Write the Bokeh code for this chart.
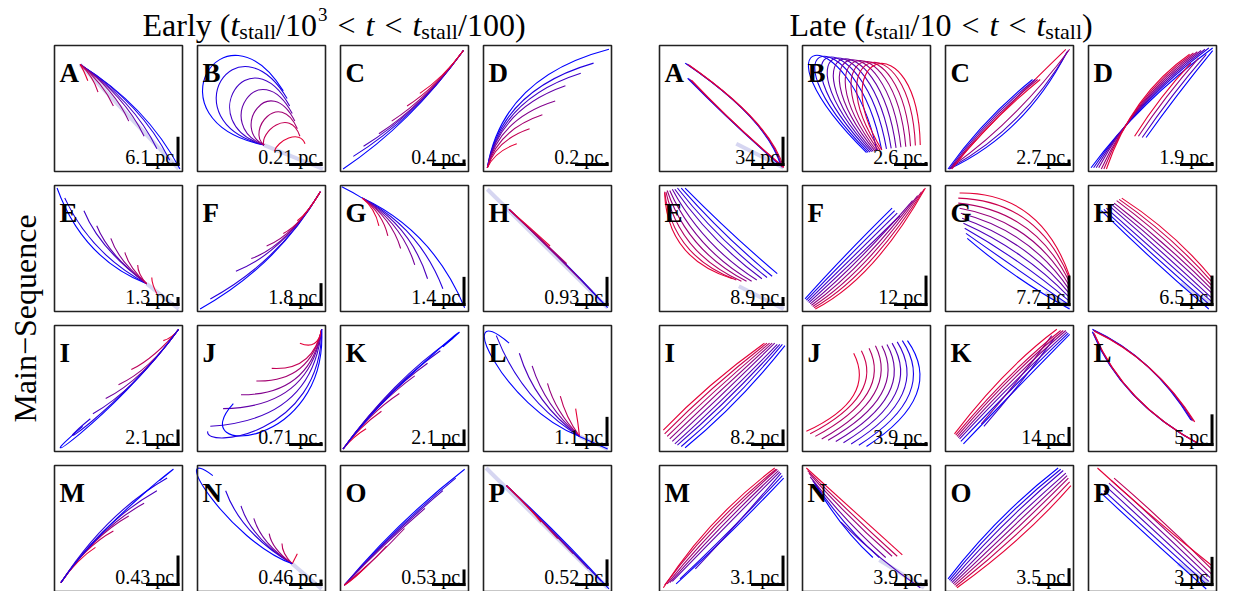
import math
from bokeh.plotting import figure
from bokeh.models import Range1d, ColumnDataSource
from bokeh.core.properties import value
from bokeh.embed import file_html
from bokeh.resources import INLINE

# ---------------- data ----------------
LETTERS = list("ABCDEFGHIJKLMNOP")
EARLY_SCALE = ["6.1 pc", "0.21 pc", "0.4 pc", "0.2 pc", "1.3 pc", "1.8 pc", "1.4 pc", "0.93 pc",
               "2.1 pc", "0.71 pc", "2.1 pc", "1.1 pc", "0.43 pc", "0.46 pc", "0.53 pc", "0.52 pc"]
LATE_SCALE = ["34 pc", "2.6 pc", "2.7 pc", "1.9 pc", "8.9 pc", "12 pc", "7.7 pc", "6.5 pc",
              "8.2 pc", "3.9 pc", "14 pc", "5 pc", "3.1 pc", "3.9 pc", "3.5 pc", "3 pc"]
EARLY_VBAR = [0.22, 0.02, 0.04, 0.02, 0.06, 0.17, 0.22, 0.22, 0.12, 0.02, 0.12, 0.22, 0.23, 0.04, 0.12, 0.20]
LATE_VBAR = [0.22, 0.02, 0.04, 0.02, 0.06, 0.23, 0.23, 0.23, 0.12, 0.02, 0.14, 0.24, 0.23, 0.04, 0.13, 0.22]

# curves in unit panel coords: 6-tuple = quadratic (x0,y0,cx,cy,x1,y1); 8-tuple = cubic (x0,y0,cx0,cy0,cx1,cy1,x1,y1)
# each panel = list of groups, each group coloured blue -> red in order
EARLY_A = [[(0.20, 0.85, 0.72, 0.52, 0.98, 0.02), (0.20, 0.85, 0.68, 0.54, 0.90, 0.09),
            (0.20, 0.85, 0.62, 0.56, 0.80, 0.18), (0.20, 0.85, 0.55, 0.60, 0.70, 0.28),
            (0.20, 0.85, 0.47, 0.65, 0.58, 0.40), (0.20, 0.85, 0.38, 0.70, 0.46, 0.52),
            (0.20, 0.85, 0.30, 0.76, 0.34, 0.63), (0.20, 0.85, 0.23, 0.80, 0.26, 0.72)]]
EARLY_B = [[(0.52, 0.21, -0.40, 0.40, 0.20, 1.40, 0.67, 0.64), (0.52, 0.21, -0.22, 0.40, 0.30, 1.25, 0.70, 0.58),
            (0.52, 0.21, -0.04, 0.38, 0.40, 1.10, 0.72, 0.52), (0.52, 0.21, 0.12, 0.36, 0.48, 0.95, 0.74, 0.46),
            (0.52, 0.21, 0.26, 0.34, 0.56, 0.80, 0.76, 0.40), (0.52, 0.21, 0.38, 0.32, 0.64, 0.66, 0.78, 0.34),
            (0.52, 0.21, 0.48, 0.30, 0.72, 0.52, 0.80, 0.28), (0.60, 0.16, 0.62, 0.24, 0.80, 0.34, 0.84, 0.22)]]
EARLY_C = [[(0.96, 0.96, 0.55, 0.38, 0.02, 0.02), (0.96, 0.96, 0.58, 0.42, 0.10, 0.12),
            (0.96, 0.96, 0.60, 0.46, 0.18, 0.20), (0.96, 0.96, 0.64, 0.52, 0.30, 0.30),
            (0.96, 0.96, 0.68, 0.58, 0.40, 0.40), (0.96, 0.96, 0.74, 0.66, 0.52, 0.52),
            (0.96, 0.96, 0.80, 0.74, 0.62, 0.62)]]
EARLY_D = [[(0.03, 0.03, 0.15, 0.75, 0.98, 0.97), (0.03, 0.03, 0.14, 0.65, 0.86, 0.86),
            (0.03, 0.03, 0.14, 0.58, 0.76, 0.78), (0.03, 0.03, 0.13, 0.50, 0.64, 0.68),
            (0.03, 0.03, 0.12, 0.42, 0.56, 0.56), (0.03, 0.03, 0.11, 0.33, 0.46, 0.45),
            (0.03, 0.03, 0.10, 0.25, 0.36, 0.34), (0.03, 0.03, 0.09, 0.16, 0.26, 0.22)]]
EARLY_E = [[(0.72, 0.22, 0.22, 0.42, 0.02, 0.98), (0.72, 0.22, 0.28, 0.46, 0.08, 0.90),
            (0.72, 0.22, 0.35, 0.50, 0.23, 0.80), (0.72, 0.22, 0.42, 0.45, 0.33, 0.68),
            (0.72, 0.22, 0.50, 0.40, 0.44, 0.58), (0.72, 0.22, 0.58, 0.35, 0.55, 0.47),
            (0.72, 0.22, 0.65, 0.30, 0.65, 0.37), (0.80, 0.14, 0.76, 0.22, 0.76, 0.27)]]
EARLY_F = [[(0.96, 0.95, 0.62, 0.36, 0.02, 0.02), (0.96, 0.95, 0.64, 0.40, 0.10, 0.10),
            (0.96, 0.95, 0.66, 0.46, 0.30, 0.32), (0.96, 0.95, 0.70, 0.52, 0.42, 0.42),
            (0.96, 0.95, 0.75, 0.60, 0.54, 0.52), (0.96, 0.95, 0.80, 0.68, 0.67, 0.62),
            (0.96, 0.95, 0.86, 0.78, 0.78, 0.72)]]
EARLY_G = [[(0.01, 0.99, 0.09, 0.95, 0.17, 0.90)],
           [(0.17, 0.90, 0.72, 0.64, 0.97, 0.03), (0.17, 0.90, 0.62, 0.66, 0.80, 0.18),
            (0.17, 0.90, 0.55, 0.68, 0.68, 0.26), (0.17, 0.90, 0.48, 0.70, 0.58, 0.37),
            (0.17, 0.90, 0.40, 0.74, 0.47, 0.50), (0.17, 0.90, 0.33, 0.78, 0.37, 0.60),
            (0.17, 0.90, 0.27, 0.82, 0.30, 0.68)]]
EARLY_H = [[(0.20, 0.81, 0.60, 0.44, 0.97, 0.03), (0.20, 0.81, 0.57, 0.46, 0.92, 0.08),
            (0.20, 0.81, 0.53, 0.49, 0.85, 0.16), (0.20, 0.81, 0.48, 0.54, 0.75, 0.26),
            (0.20, 0.81, 0.43, 0.59, 0.65, 0.38), (0.20, 0.81, 0.37, 0.66, 0.52, 0.52)]]
EARLY_I = [[(0.97, 0.97, 0.45, 0.25, -0.30, -0.25, 0.22, 0.20), (0.97, 0.97, 0.50, 0.32, -0.15, -0.10, 0.28, 0.26),
            (0.97, 0.97, 0.62, 0.48, 0.30, 0.30), (0.97, 0.97, 0.68, 0.56, 0.40, 0.42),
            (0.97, 0.97, 0.74, 0.64, 0.50, 0.53), (0.97, 0.97, 0.78, 0.74, 0.60, 0.65),
            (0.97, 0.97, 0.92, 0.90, 0.85, 0.88)]]
EARLY_J = [[(0.97, 0.97, 1.02, 0.02, -0.12, -0.06, 0.28, 0.38), (0.97, 0.97, 0.97, 0.12, 0.05, 0.02, 0.08, 0.16),
            (0.97, 0.97, 0.90, 0.25, 0.10, 0.20), (0.97, 0.97, 0.88, 0.35, 0.20, 0.34),
            (0.97, 0.97, 0.88, 0.45, 0.34, 0.45), (0.97, 0.97, 0.88, 0.55, 0.46, 0.56),
            (0.97, 0.97, 0.90, 0.64, 0.58, 0.66), (0.97, 0.97, 0.94, 0.80, 0.80, 0.86)]]
EARLY_K = [[(0.02, 0.02, 0.40, 0.55, 1.25, 1.22, 0.80, 0.83), (0.02, 0.02, 0.40, 0.56, 0.88, 0.90),
            (0.02, 0.02, 0.36, 0.50, 0.78, 0.80), (0.02, 0.02, 0.32, 0.44, 0.68, 0.70),
            (0.02, 0.02, 0.28, 0.38, 0.58, 0.60), (0.02, 0.02, 0.22, 0.30, 0.46, 0.46),
            (0.02, 0.02, 0.15, 0.20, 0.32, 0.32), (0.02, 0.02, 0.10, 0.12, 0.20, 0.18)]]
EARLY_L = [[(0.75, 0.12, 0.86, 0.07, 0.97, 0.02)],
           [(0.75, 0.12, 0.15, 0.35, -0.25, 1.25, 0.20, 0.86), (0.75, 0.12, 0.30, 0.40, 0.10, 0.92),
            (0.75, 0.12, 0.40, 0.38, 0.28, 0.78), (0.75, 0.12, 0.48, 0.36, 0.38, 0.68),
            (0.75, 0.12, 0.56, 0.32, 0.50, 0.54), (0.75, 0.12, 0.64, 0.28, 0.60, 0.44),
            (0.75, 0.12, 0.74, 0.22, 0.72, 0.34)]]
EARLY_M = [[(0.05, 0.07, 0.40, 0.60, 1.22, 1.20, 0.82, 0.88), (0.05, 0.07, 0.40, 0.62, 0.88, 0.90),
            (0.05, 0.07, 0.38, 0.56, 0.80, 0.80), (0.05, 0.07, 0.34, 0.50, 0.70, 0.70),
            (0.05, 0.07, 0.30, 0.44, 0.58, 0.60), (0.05, 0.07, 0.24, 0.36, 0.46, 0.48),
            (0.05, 0.07, 0.18, 0.26, 0.32, 0.35)]]
EARLY_N = [[(0.74, 0.22, 0.25, 0.40, -0.25, 1.20, 0.12, 0.92), (0.74, 0.22, 0.34, 0.46, 0.22, 0.80),
            (0.74, 0.22, 0.42, 0.42, 0.34, 0.68), (0.74, 0.22, 0.50, 0.38, 0.44, 0.58),
            (0.74, 0.22, 0.58, 0.34, 0.56, 0.46), (0.74, 0.22, 0.66, 0.30, 0.66, 0.38),
            (0.74, 0.22, 0.76, 0.26, 0.78, 0.30)]]
EARLY_O = [[(0.03, 0.05, 0.45, 0.56, 0.97, 0.97), (0.03, 0.05, 0.44, 0.52, 0.90, 0.90),
            (0.03, 0.05, 0.40, 0.46, 0.80, 0.80), (0.03, 0.05, 0.34, 0.38, 0.66, 0.66),
            (0.03, 0.05, 0.28, 0.26, 0.50, 0.50), (0.03, 0.05, 0.20, 0.18, 0.36, 0.36),
            (0.03, 0.05, 0.12, 0.11, 0.20, 0.20)]]
EARLY_P = [[(0.18, 0.84, 0.60, 0.45, 0.98, 0.02), (0.18, 0.84, 0.56, 0.47, 0.92, 0.08),
            (0.18, 0.84, 0.51, 0.51, 0.82, 0.18), (0.18, 0.84, 0.45, 0.57, 0.70, 0.30),
            (0.18, 0.84, 0.39, 0.63, 0.58, 0.42), (0.18, 0.84, 0.33, 0.70, 0.45, 0.55)]]

LATE_A = [[(0.20, 0.86, 0.84, 0.42, 0.95, 0.04), (0.21, 0.855, 0.85, 0.41, 0.955, 0.04),
           (0.22, 0.85, 0.86, 0.40, 0.96, 0.03), (0.23, 0.845, 0.87, 0.39, 0.97, 0.03)],
          [(0.22, 0.74, 0.55, 0.40, 0.94, 0.05), (0.23, 0.735, 0.56, 0.39, 0.95, 0.045),
           (0.24, 0.73, 0.57, 0.38, 0.96, 0.04), (0.25, 0.725, 0.58, 0.37, 0.97, 0.035)]]
LATE_B = [[(0.50, 0.150, -0.450, 1.100, 0.350, 1.250, 0.580, 0.170),
           (0.513, 0.152, -0.383, 1.083, 0.411, 1.244, 0.618, 0.174),
           (0.527, 0.154, -0.317, 1.067, 0.472, 1.239, 0.656, 0.179),
           (0.540, 0.157, -0.250, 1.050, 0.533, 1.233, 0.693, 0.183),
           (0.553, 0.159, -0.183, 1.033, 0.594, 1.228, 0.731, 0.188),
           (0.567, 0.161, -0.117, 1.017, 0.656, 1.222, 0.769, 0.192),
           (0.580, 0.163, -0.050, 1.000, 0.717, 1.217, 0.807, 0.197),
           (0.593, 0.166, 0.017, 0.983, 0.778, 1.211, 0.844, 0.201),
           (0.607, 0.168, 0.083, 0.967, 0.839, 1.206, 0.882, 0.206),
           (0.620, 0.170, 0.150, 0.950, 0.900, 1.200, 0.920, 0.210)]]
LATE_C = [[(0.03, 0.02, 0.62, 0.30, 0.95, 0.95), (0.04, 0.03, 0.60, 0.34, 0.96, 0.96),
           (0.05, 0.04, 0.55, 0.40, 0.97, 0.97), (0.06, 0.05, 0.42, 0.46, 0.94, 0.97)],
          [(0.02, 0.02, 0.30, 0.42, 0.68, 0.73), (0.03, 0.02, 0.31, 0.41, 0.70, 0.73),
           (0.04, 0.02, 0.32, 0.40, 0.72, 0.73), (0.05, 0.02, 0.33, 0.39, 0.74, 0.73)]]
LATE_D = [[(0.02, 0.03, 0.40, 0.55, 0.97, 0.98), (0.04, 0.03, 0.39, 0.56, 0.94, 0.98),
           (0.06, 0.03, 0.38, 0.57, 0.91, 0.97), (0.08, 0.03, 0.37, 0.58, 0.88, 0.96),
           (0.10, 0.02, 0.36, 0.59, 0.85, 0.95), (0.12, 0.02, 0.35, 0.60, 0.82, 0.94),
           (0.14, 0.02, 0.34, 0.61, 0.79, 0.93)],
          [(0.45, 0.27, 0.68, 0.60, 0.97, 0.96), (0.42, 0.27, 0.64, 0.60, 0.92, 0.93),
           (0.39, 0.28, 0.60, 0.60, 0.86, 0.90), (0.36, 0.28, 0.56, 0.60, 0.80, 0.86)]]
LATE_E = [[(0.20, 0.98, 0.55, 0.62, 0.92, 0.30), (0.17, 0.98, 0.50, 0.60, 0.88, 0.28),
           (0.14, 0.98, 0.45, 0.58, 0.84, 0.27), (0.12, 0.97, 0.40, 0.56, 0.80, 0.26),
           (0.10, 0.97, 0.34, 0.52, 0.76, 0.25), (0.08, 0.96, 0.28, 0.50, 0.72, 0.24),
           (0.06, 0.96, 0.22, 0.48, 0.68, 0.24), (0.05, 0.95, 0.16, 0.46, 0.64, 0.24),
           (0.04, 0.95, 0.10, 0.44, 0.60, 0.25), (0.04, 0.94, 0.06, 0.42, 0.57, 0.26)]]
LATE_F = [[(0.02, 0.10, 0.30, 0.42, 0.70, 0.82), (0.03, 0.09, 0.32, 0.40, 0.72, 0.80),
           (0.04, 0.08, 0.34, 0.38, 0.74, 0.78), (0.05, 0.07, 0.36, 0.36, 0.76, 0.76),
           (0.06, 0.06, 0.40, 0.34, 0.86, 0.88), (0.07, 0.05, 0.44, 0.32, 0.90, 0.92),
           (0.08, 0.04, 0.48, 0.30, 0.93, 0.95), (0.09, 0.03, 0.52, 0.28, 0.95, 0.97),
           (0.10, 0.02, 0.56, 0.26, 0.96, 0.98)]]
LATE_G = [[(0.17, 0.58, 0.55, 0.25, 0.97, 0.02), (0.16, 0.62, 0.58, 0.32, 0.97, 0.05),
           (0.15, 0.66, 0.60, 0.40, 0.97, 0.08), (0.14, 0.70, 0.62, 0.48, 0.97, 0.11),
           (0.13, 0.74, 0.64, 0.56, 0.97, 0.14), (0.12, 0.78, 0.66, 0.64, 0.97, 0.17),
           (0.11, 0.82, 0.68, 0.72, 0.97, 0.20), (0.10, 0.86, 0.70, 0.80, 0.97, 0.23),
           (0.10, 0.90, 0.72, 0.88, 0.97, 0.26), (0.11, 0.94, 0.74, 0.95, 0.97, 0.28)]]
LATE_H = [[(0.10, 0.80, 0.50, 0.40, 0.94, 0.02), (0.12, 0.81, 0.53, 0.42, 0.95, 0.05),
           (0.14, 0.82, 0.55, 0.45, 0.96, 0.08), (0.16, 0.84, 0.57, 0.48, 0.96, 0.11),
           (0.18, 0.85, 0.59, 0.51, 0.97, 0.14), (0.20, 0.86, 0.61, 0.54, 0.97, 0.17),
           (0.22, 0.88, 0.63, 0.57, 0.97, 0.20), (0.24, 0.89, 0.65, 0.60, 0.97, 0.23),
           (0.26, 0.90, 0.67, 0.63, 0.97, 0.26)]]
LATE_I = [[(0.20, 0.03, 0.62, 0.38, 0.98, 0.84), (0.17, 0.04, 0.59, 0.40, 0.96, 0.85),
           (0.14, 0.05, 0.56, 0.42, 0.94, 0.85), (0.12, 0.06, 0.53, 0.44, 0.92, 0.85),
           (0.10, 0.08, 0.50, 0.46, 0.90, 0.86), (0.08, 0.10, 0.47, 0.48, 0.88, 0.86),
           (0.06, 0.12, 0.44, 0.50, 0.86, 0.86), (0.04, 0.14, 0.41, 0.52, 0.84, 0.86),
           (0.03, 0.17, 0.38, 0.54, 0.82, 0.86)]]
LATE_J = [[(0.82, 0.88, 1.12, 0.45, 0.50, 0.04), (0.78, 0.88, 1.06, 0.45, 0.44, 0.05),
           (0.74, 0.87, 1.00, 0.45, 0.38, 0.06), (0.70, 0.86, 0.94, 0.45, 0.32, 0.07),
           (0.66, 0.85, 0.88, 0.45, 0.26, 0.08), (0.62, 0.84, 0.82, 0.45, 0.20, 0.09),
           (0.57, 0.84, 0.76, 0.45, 0.15, 0.10), (0.52, 0.82, 0.70, 0.45, 0.10, 0.12),
           (0.46, 0.80, 0.64, 0.45, 0.06, 0.14), (0.40, 0.78, 0.58, 0.42, 0.03, 0.16)]]
LATE_K = [[(0.14, 0.06, 0.60, 0.55, 0.97, 0.93), (0.12, 0.08, 0.58, 0.57, 0.96, 0.94),
           (0.30, 0.20, 0.60, 0.55, 0.85, 0.90), (0.11, 0.10, 0.56, 0.59, 0.95, 0.95),
           (0.28, 0.22, 0.58, 0.57, 0.83, 0.92), (0.10, 0.11, 0.54, 0.61, 0.94, 0.96),
           (0.09, 0.12, 0.52, 0.63, 0.92, 0.96), (0.08, 0.13, 0.50, 0.64, 0.90, 0.96),
           (0.07, 0.14, 0.46, 0.66, 0.87, 0.97)]]
LATE_L = [[(0.03, 0.97, 0.50, 0.75, 0.80, 0.25), (0.035, 0.965, 0.51, 0.74, 0.81, 0.245),
           (0.04, 0.96, 0.52, 0.73, 0.82, 0.24), (0.045, 0.955, 0.53, 0.72, 0.83, 0.235)],
          [(0.03, 0.95, 0.25, 0.40, 0.86, 0.06), (0.035, 0.945, 0.26, 0.39, 0.87, 0.055),
           (0.04, 0.94, 0.27, 0.38, 0.88, 0.05), (0.045, 0.935, 0.28, 0.37, 0.89, 0.045)]]
LATE_M = [[(0.13, 0.06, 0.55, 0.45, 0.97, 0.90), (0.16, 0.10, 0.55, 0.47, 0.96, 0.92),
           (0.28, 0.18, 0.58, 0.50, 0.95, 0.94), (0.10, 0.08, 0.50, 0.50, 0.94, 0.95),
           (0.08, 0.07, 0.47, 0.52, 0.93, 0.96), (0.06, 0.06, 0.44, 0.54, 0.92, 0.97),
           (0.04, 0.05, 0.41, 0.56, 0.91, 0.97), (0.03, 0.03, 0.38, 0.58, 0.90, 0.98)]]
LATE_N = [[(0.10, 0.85, 0.30, 0.50, 0.55, 0.27), (0.08, 0.88, 0.32, 0.52, 0.60, 0.27),
           (0.30, 0.55, 0.60, 0.25, 0.92, 0.03), (0.06, 0.91, 0.34, 0.55, 0.65, 0.27),
           (0.05, 0.94, 0.36, 0.58, 0.70, 0.28), (0.04, 0.96, 0.38, 0.61, 0.74, 0.28),
           (0.03, 0.98, 0.40, 0.64, 0.78, 0.29)]]
LATE_O = [[(0.02, 0.10, 0.40, 0.60, 0.88, 0.98), (0.03, 0.09, 0.42, 0.58, 0.90, 0.97),
           (0.04, 0.08, 0.45, 0.56, 0.92, 0.96), (0.05, 0.07, 0.48, 0.53, 0.94, 0.94),
           (0.06, 0.06, 0.51, 0.50, 0.95, 0.92), (0.07, 0.05, 0.54, 0.47, 0.96, 0.90),
           (0.08, 0.04, 0.57, 0.44, 0.97, 0.87), (0.09, 0.03, 0.60, 0.40, 0.98, 0.84)]]
LATE_P = [[(0.10, 0.78, 0.50, 0.40, 0.92, 0.02), (0.12, 0.80, 0.52, 0.43, 0.93, 0.05),
           (0.14, 0.83, 0.54, 0.46, 0.94, 0.08), (0.16, 0.86, 0.56, 0.49, 0.95, 0.11),
           (0.18, 0.88, 0.58, 0.52, 0.96, 0.14), (0.20, 0.90, 0.60, 0.55, 0.97, 0.17),
           (0.07, 0.98, 0.50, 0.58, 0.97, 0.20)]]

# faint (pale) tracks: (panel index, u0, v0, u1, v1)
EARLY_FAINT = [(0, 0.20, 0.85, 0.97, 0.02), (1, 0.52, 0.21, 0.98, 0.02), (4, 0.72, 0.22, 0.97, 0.02),
               (7, 0.03, 0.97, 0.97, 0.03), (11, 0.75, 0.12, 0.97, 0.02), (13, 0.74, 0.22, 0.97, 0.02),
               (15, 0.02, 0.98, 0.97, 0.03)]
LATE_FAINT = [(0, 0.60, 0.22, 0.97, 0.03), (4, 0.62, 0.20, 0.97, 0.02), (6, 0.78, 0.15, 0.97, 0.03),
              (7, 0.72, 0.22, 0.97, 0.05), (13, 0.60, 0.25, 0.95, 0.03), (15, 0.70, 0.22, 0.97, 0.05)]

EARLY = [EARLY_A, EARLY_B, EARLY_C, EARLY_D, EARLY_E, EARLY_F, EARLY_G, EARLY_H,
         EARLY_I, EARLY_J, EARLY_K, EARLY_L, EARLY_M, EARLY_N, EARLY_O, EARLY_P]
LATE = [LATE_A, LATE_B, LATE_C, LATE_D, LATE_E, LATE_F, LATE_G, LATE_H,
        LATE_I, LATE_J, LATE_K, LATE_L, LATE_M, LATE_N, LATE_O, LATE_P]

# ---------------- layout ----------------
FONT = "Liberation Serif"
EARLY_COLS = [62, 205, 348, 491]
LATE_COLS = [667, 810, 953, 1096]
ROWS = [53, 193, 333, 473]
PW, PH = 128, 126

p = figure(width=1227, height=591, x_range=Range1d(8, 1235), y_range=Range1d(599, 8),
           x_axis_type=None, y_axis_type=None, output_backend="svg", toolbar_location=None,
           min_border=0, outline_line_color=None)
p.grid.visible = False


def tone(t):
    r = round(228 * t)
    b = round(255 - 200 * t)
    return "#%02x%02x%02x" % (r, 0, b)


quad = {k: [] for k in ["x0", "y0", "cx", "cy", "x1", "y1", "c"]}
cub = {k: [] for k in ["x0", "y0", "cx0", "cy0", "cx1", "cy1", "x1", "y1", "c"]}
faint = {k: [] for k in ["x0", "y0", "x1", "y1"]}
frames = {k: [] for k in ["l", "r", "t", "b"]}
hbar = {k: [] for k in ["x0", "y0", "x1", "y1"]}
vbar = {k: [] for k in ["x0", "y0", "x1", "y1"]}
lab = {k: [] for k in ["x", "y", "t"]}
let = {k: [] for k in ["x", "y", "t"]}

for cols, panels, scales, vbars, faints in [(EARLY_COLS, EARLY, EARLY_SCALE, EARLY_VBAR, EARLY_FAINT),
                                            (LATE_COLS, LATE, LATE_SCALE, LATE_VBAR, LATE_FAINT)]:
    for k in range(16):
        r, c = divmod(k, 4)
        px, py = cols[c], ROWS[r]
        X = lambda u, px=px: px + u * PW
        Y = lambda v, py=py: py + (1 - v) * PH
        for grp in panels[k]:
            n = len(grp)
            for i, cv in enumerate(grp):
                col = tone(i / (n - 1) if n > 1 else 0.0)
                if len(cv) == 6:
                    quad["x0"].append(X(cv[0])); quad["y0"].append(Y(cv[1]))
                    quad["cx"].append(X(cv[2])); quad["cy"].append(Y(cv[3]))
                    quad["x1"].append(X(cv[4])); quad["y1"].append(Y(cv[5]))
                    quad["c"].append(col)
                else:
                    cub["x0"].append(X(cv[0])); cub["y0"].append(Y(cv[1]))
                    cub["cx0"].append(X(cv[2])); cub["cy0"].append(Y(cv[3]))
                    cub["cx1"].append(X(cv[4])); cub["cy1"].append(Y(cv[5]))
                    cub["x1"].append(X(cv[6])); cub["y1"].append(Y(cv[7]))
                    cub["c"].append(col)
        frames["l"].append(px); frames["r"].append(px + PW)
        frames["t"].append(py); frames["b"].append(py + PH)
        yb = Y(0.055)
        hbar["x0"].append(X(0.715)); hbar["x1"].append(X(0.965) + 1.5)
        hbar["y0"].append(yb); hbar["y1"].append(yb)
        vbar["x0"].append(X(0.965)); vbar["x1"].append(X(0.965))
        vbar["y0"].append(yb + 1.5); vbar["y1"].append(Y(0.055 + vbars[k]))
        lab["x"].append(X(0.935)); lab["y"].append(Y(0.115)); lab["t"].append(scales[k])
        let["x"].append(px + 5); let["y"].append(py + 27); let["t"].append(LETTERS[k])
    for (k, u0, v0, u1, v1) in faints:
        r, c = divmod(k, 4)
        px, py = cols[c], ROWS[r]
        faint["x0"].append(px + u0 * PW); faint["y0"].append(py + (1 - v0) * PH)
        faint["x1"].append(px + u1 * PW); faint["y1"].append(py + (1 - v1) * PH)

p.segment(x0="x0", y0="y0", x1="x1", y1="y1", source=ColumnDataSource(faint),
          line_color="#b4b4e6", line_alpha=0.55, line_width=4)
p.quadratic(x0="x0", y0="y0", x1="x1", y1="y1", cx="cx", cy="cy", source=ColumnDataSource(quad),
            line_color="c", line_width=1.1)
p.bezier(x0="x0", y0="y0", x1="x1", y1="y1", cx0="cx0", cy0="cy0", cx1="cx1", cy1="cy1",
         source=ColumnDataSource(cub), line_color="c", line_width=1.1)
p.quad(left="l", right="r", top="t", bottom="b", source=ColumnDataSource(frames),
       fill_color=None, line_color="#222222", line_width=1.6)
p.segment(x0="x0", y0="y0", x1="x1", y1="y1", source=ColumnDataSource(hbar), line_color="black", line_width=3)
p.segment(x0="x0", y0="y0", x1="x1", y1="y1", source=ColumnDataSource(vbar), line_color="black", line_width=3)
p.text(x="x", y="y", text="t", source=ColumnDataSource(lab), text_font=value(FONT), text_font_size="20px",
       text_align="right", text_baseline="alphabetic", text_color="black")
p.text(x="x", y="y", text="t", source=ColumnDataSource(let), text_font=value(FONT), text_font_size="27px",
       text_font_style="bold", text_align="left", text_baseline="alphabetic", text_color="black")

# ---------------- titles ----------------
WID = {'E': 611, 'a': 444, 'r': 333, 'l': 278, 'y': 500, ' ': 250, '(': 333, ')': 333, 't': 278,
       's': 389, '/': 278, '1': 500, '0': 500, '3': 500, '<': 564, 'L': 611, 'e': 444}


def twidth(s, size):
    return sum(WID.get(ch, 500) for ch in s) * size / 1000.0


TITLE_BASE = 32
TITLE_EARLY = [("Early (", 32, "normal", 0, 0), ("t", 32, "italic", 0, 0), ("stall", 22, "normal", 7, 0),
               ("/10", 32, "normal", 0, 0), ("3", 19, "normal", -10, 1), ("<", 32, "normal", 0, 10),
               ("t", 32, "italic", 0, 10), ("<", 32, "normal", 0, 10), ("t", 32, "italic", 0, 10),
               ("stall", 22, "normal", 7, 0), ("/100)", 32, "normal", 0, 0)]
TITLE_LATE = [("Late (", 32, "normal", 0, 0), ("t", 32, "italic", 0, 0), ("stall", 22, "normal", 7, 0),
              ("/10", 32, "normal", 0, 0), ("<", 32, "normal", 0, 10), ("t", 32, "italic", 0, 10),
              ("<", 32, "normal", 0, 10), ("t", 32, "italic", 0, 10), ("stall", 22, "normal", 7, 0),
              (")", 32, "normal", 0, 0)]

for pieces, x_start in [(TITLE_EARLY, 150), (TITLE_LATE, 797)]:
    x = x_start
    for (s, size, style, dy, gap) in pieces:
        x += gap
        p.text(x=[x], y=[TITLE_BASE + dy], text=[s], text_font=value(FONT), text_font_size="%dpx" % size,
               text_font_style=style, text_align="left", text_baseline="alphabetic", text_color="black")
        x += twidth(s, size)

p.text(x=[32], y=[326], text=["Main\u2212Sequence"], angle=math.pi / 2, text_font=value(FONT),
       text_font_size="32px", text_align="center", text_baseline="middle", text_color="black")

open("out.html", "w").write(file_html(p, INLINE))
